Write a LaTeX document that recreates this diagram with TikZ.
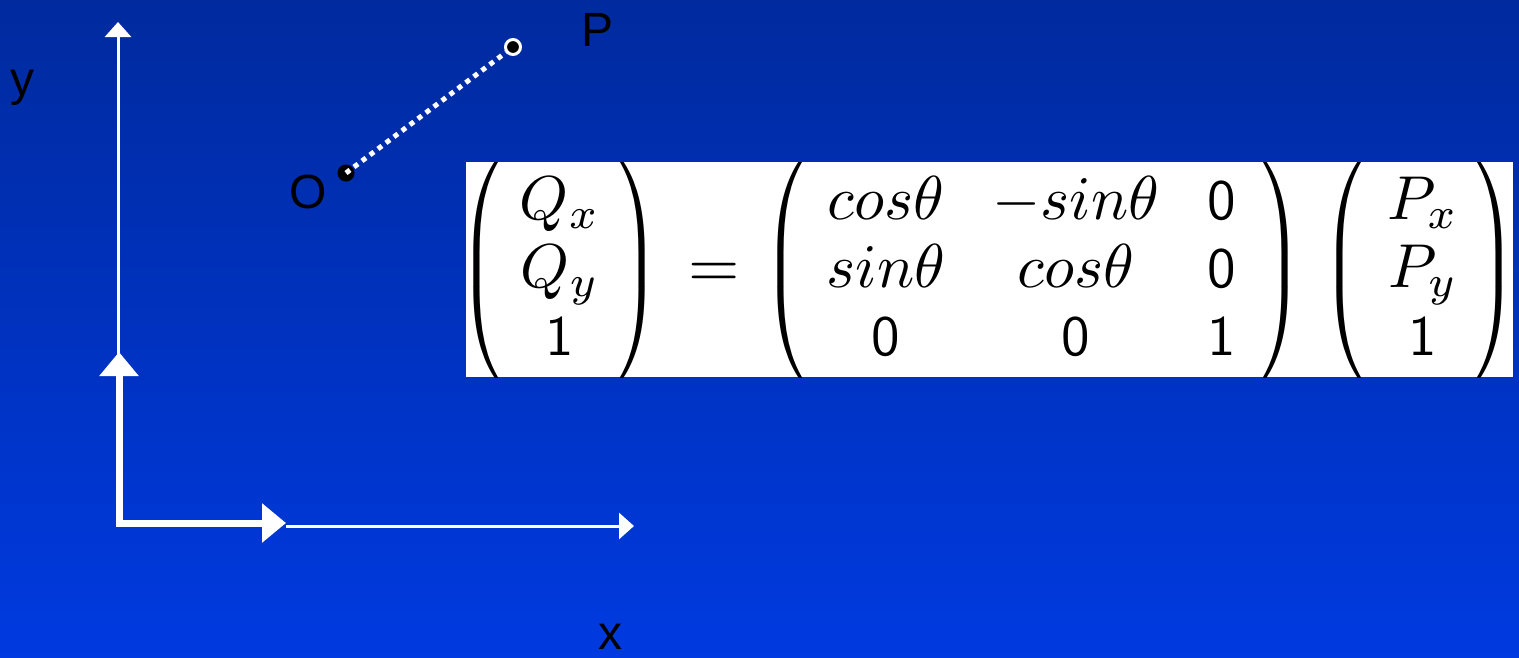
\documentclass[tikz,border=0pt]{standalone}
\usepackage{amsmath,amssymb}
\usepackage{fontspec}
\newfontfamily\labelsans{Liberation Sans}
\usepackage{tikz}
\usetikzlibrary{arrows.meta}

\definecolor{bgtop}{RGB}{0,42,158}
\definecolor{bgbot}{RGB}{0,58,224}

\tikzset{
  lbl/.style={inner sep=0pt,font=\labelsans\fontsize{48}{56}\selectfont},
  entry/.style={anchor=base,inner sep=0pt,scale=6.2,transform shape},
  digit/.style={entry,scale=5.7/6.2},
  delim/.style={inner sep=0pt,scale=5.6,transform shape},
  thinaxis/.style={white,line width=3pt,-{Triangle[length=15pt,width=26pt]}},
  bigaxis/.style={white,line width=7pt,miter limit=10,
    {Triangle[length=24pt,width=38pt]}-{Triangle[length=24pt,width=38pt]}}
}
\newcommand{\bigparen}[1]{$\left#1\vcenter{\hrule height 40.6pt width 0pt}\right.$}

\begin{document}
\begin{tikzpicture}[x=1pt,y=-1pt]
\shade[top color=bgtop,bottom color=bgbot] (0,0) rectangle (1519,657);
\useasboundingbox (0,0) rectangle (1519,657);

% axes
\coordinate (corner) at (119,523);
\coordinate (bigy) at (119,352);
\coordinate (bigx) at (286,523);
\coordinate (ybase) at (118,355);
\coordinate (ytip) at (118,22);
\coordinate (xbase) at (286,526);
\coordinate (xtip) at (634,526);
\draw[thinaxis] (ybase) -- (ytip);
\draw[thinaxis] (xbase) -- (xtip);
\draw[bigaxis] (bigy) -- (corner) -- (bigx);
\node[lbl] (ylbl) at (22,88) {y};
\node[lbl] (xlbl) at (610,637) {x};

% the two points
\node[circle,fill=black,inner sep=0pt,minimum size=17pt] (O) at (346,173) {};
\node[circle,fill=black,draw=white,line width=3pt,inner sep=0pt,minimum size=15pt] (P) at (513,47) {};
\draw[white,line width=5pt,dash pattern=on 5pt off 5pt] (O.center) -- (P);
\node[lbl] (Olbl) at (308,192) {O};
\node[lbl] (Plbl) at (598,30) {P};

% the matrix equation
\fill[white] (466,162) rectangle (1513,377);
\begin{scope}
\clip (466,162) rectangle (1513,377);
\node[delim] (lq) at (485,270) {\bigparen(};
\node[delim] (rq) at (640,270) {\bigparen)};
\node[delim] (lr) at (789,270) {\bigparen(};
\node[delim] (rr) at (1283,270) {\bigparen)};
\node[delim] (lp) at (1348,270) {\bigparen(};
\node[delim] (rp) at (1497,270) {\bigparen)};
\end{scope}
\node[entry,scale=6.6/6.2] (eq) at (714,287) {$=$};

\node[entry] (qx) at (560,219) {$Q_x$};
\node[entry] (qy) at (560,287) {$Q_y$};
\node[digit] (q1) at (560,355) {$\mathsf{1}$};

\node[entry] (r11) at (886,219) {$cos\theta$};
\node[entry] (r12) at (1076,219) {$-sin\theta$};
\node[digit] (r13) at (1222,219) {$\mathsf{0}$};
\node[entry] (r21) at (886,287) {$sin\theta$};
\node[entry] (r22) at (1076,287) {$cos\theta$};
\node[digit] (r23) at (1222,287) {$\mathsf{0}$};
\node[digit] (r31) at (886,355) {$\mathsf{0}$};
\node[digit] (r32) at (1076,355) {$\mathsf{0}$};
\node[digit] (r33) at (1222,355) {$\mathsf{1}$};

\node[entry] (px) at (1423,219) {$P_x$};
\node[entry] (py) at (1423,287) {$P_y$};
\node[digit] (p1) at (1423,355) {$\mathsf{1}$};
\end{tikzpicture}
\end{document}
